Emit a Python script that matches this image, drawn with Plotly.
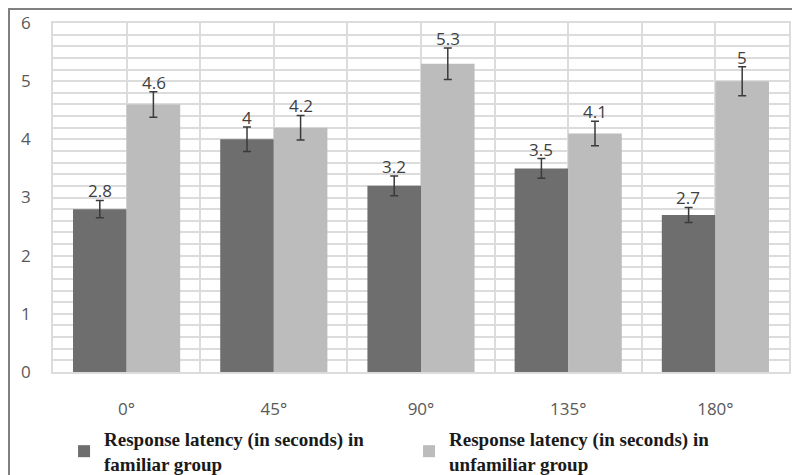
import plotly.graph_objects as go

categories = ["0°", "45°", "90°", "135°", "180°"]
familiar = [2.8, 4.0, 3.2, 3.5, 2.7]
familiar_err = [0.15, 0.21, 0.17, 0.17, 0.13]
unfamiliar = [4.6, 4.2, 5.3, 4.1, 5.0]
unfamiliar_err = [0.22, 0.21, 0.27, 0.21, 0.25]
series_names = [
    "Response latency (in seconds) in<br>familiar group",
    "Response latency (in seconds) in<br>unfamiliar group",
]
y_ticks = [0, 1, 2, 3, 4, 5, 6]

xpos = list(range(len(categories)))
dark = "#6e6e6e"
light = "#bcbcbc"
grid = "#dcdcdc"
errc = "#3a3a3a"

fig = go.Figure()
for name, vals, errs, col in [
    (series_names[0], familiar, familiar_err, dark),
    (series_names[1], unfamiliar, unfamiliar_err, light),
]:
    fig.add_trace(go.Bar(
        x=xpos, y=vals, name=name, marker=dict(color=col, line=dict(width=0)),
        error_y=dict(type="data", array=errs, visible=True, color=errc,
                     thickness=1.5, width=4),
    ))

# data labels above error bars
for i, (vals, errs) in enumerate([(familiar, familiar_err), (unfamiliar, unfamiliar_err)]):
    shift = -27 if i == 0 else 27
    for xp, v, e in zip(xpos, vals, errs):
        fig.add_annotation(x=xp, y=v + e, xshift=shift, yshift=-4, text=f"{v:g}",
                           showarrow=False, yanchor="bottom",
                           font=dict(family="Open Sans", size=17, color="#404040"))

# outer frame
fig.add_shape(type="rect", xref="paper", yref="paper",
              x0=-0.0598, x1=1.05, y0=-0.4, y1=1.0401,
              line=dict(color="#808080", width=2), fillcolor="rgba(0,0,0,0)", layer="below")

fig.update_layout(
    width=792, height=467,
    margin=dict(l=45, r=11, t=15, b=103, autoexpand=False),
    paper_bgcolor="white", plot_bgcolor="white",
    barmode="group", bargap=0.272, bargroupgap=0,
    showlegend=True,
    legend=dict(orientation="h", x=0.015, y=-0.1375, xanchor="left", yanchor="top",
                font=dict(family="Liberation Serif", size=19, color="#1a1a1a", weight="bold"),
                entrywidth=300, entrywidthmode="pixels",
                bgcolor="rgba(0,0,0,0)"),
    xaxis=dict(range=[-0.5, 4.5], tickvals=xpos, ticktext=categories,
               showgrid=True, gridcolor=grid, gridwidth=1.5,
               minor=dict(dtick=0.5, tick0=-0.5, showgrid=True, gridcolor=grid, gridwidth=1.5),
               zeroline=False, showline=True, linecolor=grid, linewidth=1.5, mirror=True,
               ticks="", ticklabelstandoff=21,
               tickfont=dict(family="Open Sans", size=17, color="#595959")),
    yaxis=dict(range=[0, 6], tickvals=y_ticks, showgrid=True, gridcolor=grid, gridwidth=1.5,
               minor=dict(dtick=0.2, tick0=0, showgrid=True, gridcolor=grid, gridwidth=1.5),
               zeroline=False, showline=True, linecolor=grid, linewidth=1.5, mirror=True,
               ticks="", ticklabelstandoff=17,
               tickfont=dict(family="Open Sans", size=17, color="#595959")),
)

fig.write_html("out.html")
